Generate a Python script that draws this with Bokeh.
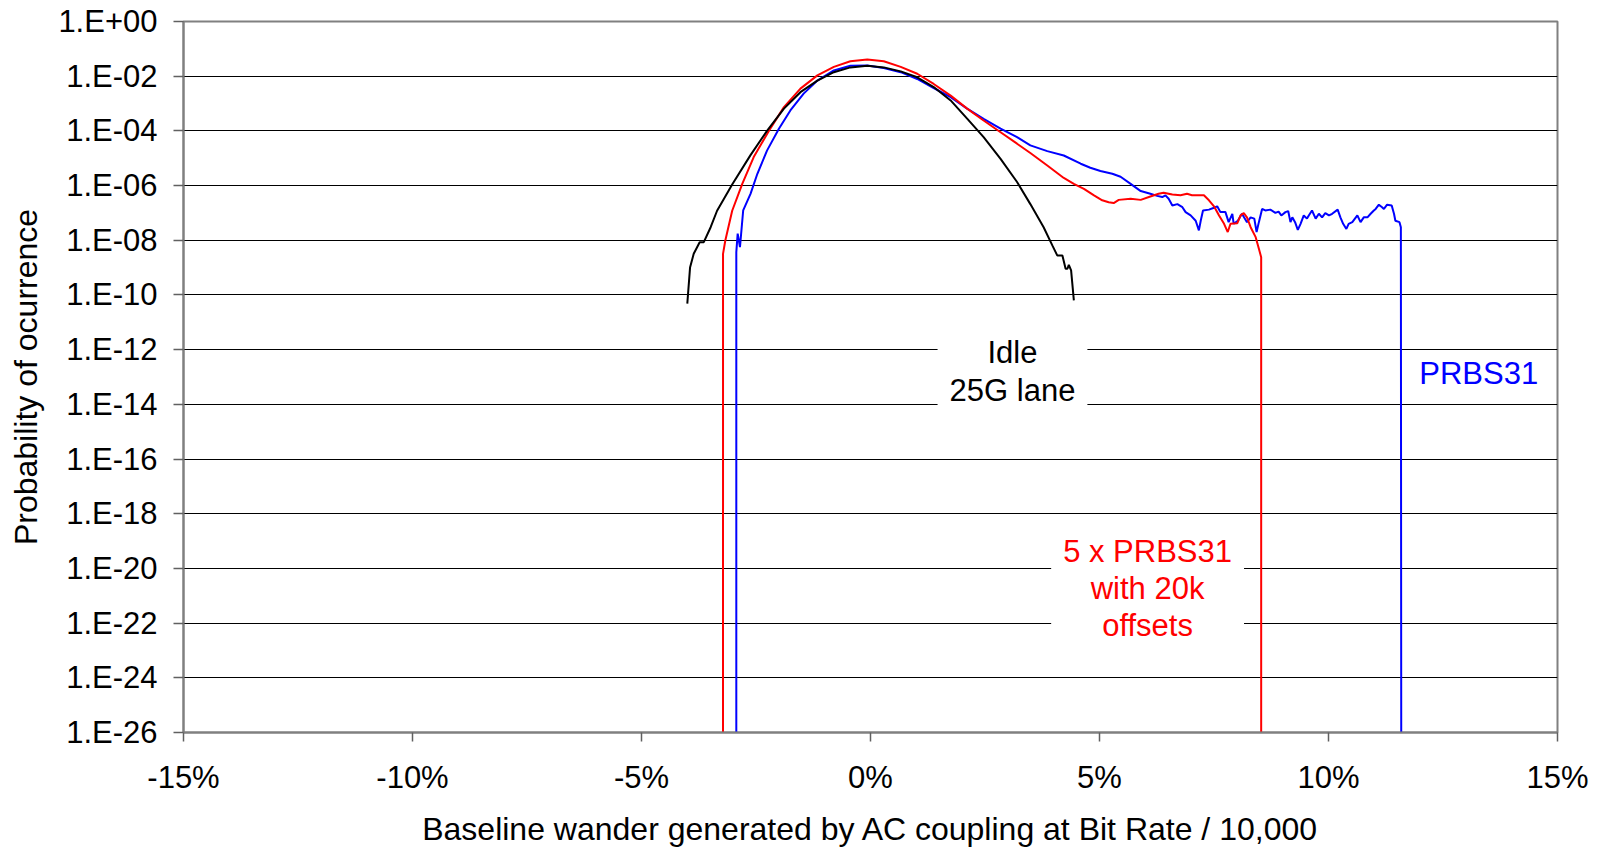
from bokeh.plotting import figure
from bokeh.models import FixedTicker, CustomJSTickFormatter, Label, Range1d
from bokeh.embed import file_html
from bokeh.resources import INLINE

# ---- data (x in %, y = probability of occurrence) ----
idle_x = [-4.00, -3.94, -3.86, -3.73, -3.64, -3.49, -3.35, -3.02, -2.62, -2.26, -1.89, -1.53,
          -1.16, -0.80, -0.44, -0.07, 0.29, 0.66, 1.02, 1.38, 1.75, 2.11, 2.47, 2.84, 3.20,
          3.49, 3.78, 3.97, 4.08, 4.19, 4.26, 4.30, 4.33, 4.38, 4.44]
idle_p = [4.8e-11, 1.0e-9, 3.2e-9, 8.5e-9, 8.5e-9, 3.0e-8, 1.2e-7, 1.1e-6, 1.3e-5, 1.0e-4,
          6.5e-4, 2.6e-3, 6.9e-3, 1.4e-2, 2.1e-2, 2.4e-2, 2.1e-2, 1.5e-2, 9.1e-3, 4.0e-3,
          1.3e-3, 2.8e-4, 5.9e-5, 9.5e-6, 1.35e-6, 2.1e-7, 3.0e-8, 6.5e-9, 2.75e-9, 2.75e-9,
          9.1e-10, 9.1e-10, 1.26e-9, 7.9e-10, 6.3e-11]

multi_x = [-3.22, -3.22, -3.17, -3.02, -2.80, -2.55, -2.22, -1.89, -1.53, -1.16, -0.80, -0.44,
           -0.07, 0.29, 0.66, 1.02, 1.38, 1.75, 2.11, 2.47, 2.84, 3.20, 3.49, 3.86, 4.22, 4.44,
           4.66, 4.88, 5.06, 5.20, 5.31, 5.42, 5.68, 5.90, 6.11, 6.29, 6.40, 6.59, 6.77, 6.91,
           7.02, 7.13, 7.28, 7.39, 7.50, 7.61, 7.72, 7.80, 7.86, 8.01, 8.08, 8.15, 8.22, 8.30,
           8.41, 8.48, 8.53, 8.53]
multi_p = [1e-30, 3.2e-9, 9.8e-9, 1.2e-7, 1.15e-6, 1.1e-5, 1.0e-4, 7.4e-4, 3.5e-3, 1.07e-2,
           2.2e-2, 3.5e-2, 4.1e-2, 3.5e-2, 2.2e-2, 1.23e-2, 5.2e-3, 1.95e-3, 6.5e-4, 2.4e-4,
           8.9e-5, 3.4e-5, 1.55e-5, 5.4e-6, 1.9e-6, 1.15e-6, 7.6e-7, 4.4e-7, 2.9e-7, 2.45e-7,
           2.3e-7, 3.0e-7, 3.3e-7, 3.0e-7, 4.0e-7, 5.0e-7, 5.5e-7, 4.7e-7, 4.4e-7, 5.0e-7,
           4.4e-7, 4.4e-7, 4.4e-7, 2.9e-7, 1.74e-7, 8.1e-8, 4.0e-8, 2.0e-8, 4.0e-8, 4.2e-8,
           8.1e-8, 9.8e-8, 6.9e-8, 3.0e-8, 1.3e-8, 4.9e-9, 2.4e-9, 1e-30]

prbs_x = [-2.93, -2.93, -2.90, -2.85, -2.78, -2.62, -2.47, -2.26, -2.00, -1.75, -1.46, -1.16,
          -0.80, -0.44, -0.07, 0.29, 0.66, 1.02, 1.38, 1.75, 2.11, 2.47, 2.84, 3.20, 3.49,
          3.86, 4.22, 4.59, 4.80, 5.02, 5.28, 5.46, 5.68, 5.90, 6.11, 6.26, 6.37, 6.44, 6.51,
          6.59, 6.70, 6.81, 6.88, 6.99, 7.10, 7.17, 7.21, 7.26, 7.39, 7.50, 7.57, 7.64, 7.75,
          7.82, 7.90, 7.93, 8.02, 8.11, 8.22, 8.30, 8.38, 8.43, 8.48, 8.55, 8.62, 8.73, 8.84,
          8.91, 8.97, 9.06, 9.12, 9.17, 9.21, 9.27, 9.33, 9.39, 9.46, 9.53, 9.57, 9.64, 9.72,
          9.79, 9.86, 9.93, 10.01, 10.08, 10.20, 10.26, 10.32, 10.39, 10.44, 10.52, 10.63,
          10.70, 10.77, 10.85, 10.92, 10.99, 11.03, 11.10, 11.17, 11.21, 11.28, 11.38, 11.43,
          11.46, 11.55, 11.58, 11.59]
prbs_p = [1e-30, 3.7e-9, 1.74e-8, 5.6e-9, 1.23e-7, 5.0e-7, 2.7e-6, 1.9e-5, 1.2e-4, 5.6e-4,
          2.3e-3, 6.9e-3, 1.62e-2, 2.4e-2, 2.45e-2, 2.0e-2, 1.4e-2, 7.9e-3, 3.7e-3, 1.7e-3,
          6.5e-4, 2.75e-4, 1.2e-4, 5.9e-5, 2.95e-5, 1.82e-5, 1.26e-5, 6.3e-6, 4.5e-6, 3.4e-6,
          2.7e-6, 2.1e-6, 1.15e-6, 6.3e-7, 5.0e-7, 4.2e-7, 3.8e-7, 4.4e-7, 3.3e-7, 1.86e-7,
          2.1e-7, 1.62e-7, 1.07e-7, 8.1e-8, 5.2e-8, 2.3e-8, 5.2e-8, 1.23e-7, 1.32e-7, 1.55e-7,
          1.74e-7, 1.07e-7, 1.07e-7, 4.6e-8, 9.3e-8, 4.0e-8, 5.2e-8, 9.3e-8, 4.6e-8, 6.9e-8,
          6.2e-8, 2.0e-8, 4.6e-8, 1.4e-7, 1.23e-7, 1.32e-7, 1.0e-7, 1.12e-7, 8.1e-8, 1.07e-7,
          1.17e-7, 4.6e-8, 6.9e-8, 4.6e-8, 2.4e-8, 4.0e-8, 8.1e-8, 6.2e-8, 8.1e-8, 1.23e-7,
          6.2e-8, 9.3e-8, 6.9e-8, 9.8e-8, 8.1e-8, 9.3e-8, 1.32e-7, 6.9e-8, 4.0e-8, 2.6e-8,
          4.0e-8, 4.6e-8, 8.1e-8, 4.6e-8, 6.9e-8, 6.9e-8, 9.3e-8, 1.23e-7, 1.4e-7, 2.0e-7,
          1.62e-7, 1.4e-7, 2.0e-7, 1.86e-7, 9.3e-8, 5.2e-8, 4.6e-8, 3.0e-8, 1e-30]

x_ticks = [-15, -10, -5, 0, 5, 10, 15]
y_ticks = [1e0, 1e-2, 1e-4, 1e-6, 1e-8, 1e-10, 1e-12, 1e-14, 1e-16, 1e-18, 1e-20,
           1e-22, 1e-24, 1e-26]

FONT = "Liberation Sans"
FS = "31px"
FS_TITLE = "32px"

p = figure(frame_width=1374, frame_height=711,
           x_range=Range1d(-15, 15), y_range=Range1d(1e-26, 1),
           y_axis_type="log", output_backend="svg", toolbar_location=None,
           min_border_left=183, min_border_right=43, min_border_top=21,
           min_border_bottom=119)

p.background_fill_color = "white"
p.border_fill_color = "white"
p.outline_line_color = "#808080"
p.outline_line_width = 2

p.xgrid.visible = False
p.ygrid.grid_line_color = "black"
p.ygrid.grid_line_width = 1

p.xaxis.ticker = FixedTicker(ticks=x_ticks)
p.yaxis.ticker = FixedTicker(ticks=y_ticks)
p.ygrid.ticker = FixedTicker(ticks=y_ticks)
p.xaxis.formatter = CustomJSTickFormatter(code="return tick + '%';")
p.yaxis.formatter = CustomJSTickFormatter(code="""
const e = Math.round(Math.log10(tick));
const s = Math.abs(e).toString().padStart(2, '0');
return '1.E' + (e < 0 ? '-' : '+') + s;
""")

for ax in (p.xaxis[0], p.yaxis[0]):
    ax.axis_line_color = "#808080"
    ax.axis_line_width = 2
    ax.major_tick_line_color = "#606060"
    ax.major_tick_line_width = 1.5
    ax.major_tick_in = 0
    ax.minor_tick_line_color = None
    ax.major_label_text_font = FONT
    ax.major_label_text_font_size = FS
    ax.major_label_text_color = "black"
    ax.axis_label_text_font = FONT
    ax.axis_label_text_font_size = FS_TITLE
    ax.axis_label_text_font_style = "normal"
    ax.axis_label_text_color = "black"

p.yaxis.major_tick_out = 10
p.xaxis.major_tick_out = 9
p.yaxis.major_label_standoff = 16
p.xaxis.major_label_standoff = 18
p.yaxis.axis_label = "Probability of ocurrence"
p.xaxis.axis_label = "Baseline wander generated by AC coupling at Bit Rate / 10,000"
p.yaxis.axis_label_standoff = 11
p.xaxis.axis_label_standoff = 13

p.line(prbs_x, prbs_p, line_color="#0000FF", line_width=2)
p.line(multi_x, multi_p, line_color="#FF0000", line_width=2)
p.line(idle_x, idle_p, line_color="#000000", line_width=2)

p.add_layout(Label(x=3.1, y=10 ** -12.8, text="Idle\n25G lane", text_align="center",
                   text_baseline="middle", text_font=FONT, text_font_size=FS,
                   text_color="black", text_line_height=1.08,
                   background_fill_color="white", padding=12))
p.add_layout(Label(x=6.05, y=10 ** -20.73, text="5 x PRBS31\nwith 20k\noffsets",
                   text_align="center", text_baseline="middle", text_font=FONT,
                   text_font_size=FS, text_color="#FF0000", text_line_height=1.05,
                   background_fill_color="white", padding=12))
p.add_layout(Label(x=13.28, y=10 ** -12.89, text="PRBS31", text_align="center",
                   text_baseline="middle", text_font=FONT, text_font_size=FS,
                   text_color="#0000FF"))

open("out.html", "w").write(file_html(p, INLINE))
